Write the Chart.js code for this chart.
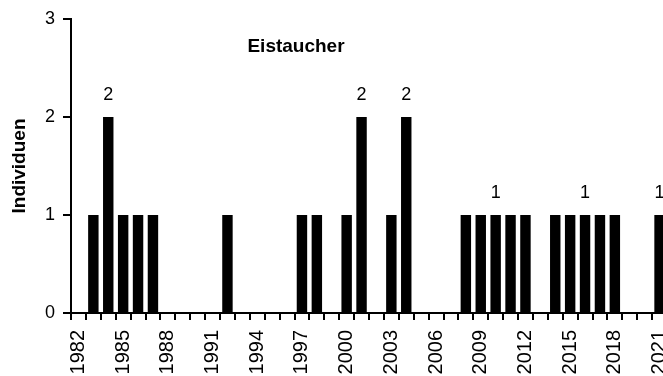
<!DOCTYPE html>
<html>
<head>
<meta charset="utf-8">
<script src="https://cdn.jsdelivr.net/npm/chart.js@4"></script>
<style>
  html, body { margin: 0; padding: 0; background: #fff; overflow: hidden; }
  #wrap { width: 663px; height: 376px; overflow: hidden; }
</style>
</head>
<body>
<div id="wrap"><canvas id="eistaucher" width="667" height="376"></canvas></div>
<script>
// Eistaucher - Individuen pro Jahr
const years = [1982, 1983, 1984, 1985, 1986, 1987, 1988, 1989, 1990, 1991,
               1992, 1993, 1994, 1995, 1996, 1997, 1998, 1999, 2000, 2001,
               2002, 2003, 2004, 2005, 2006, 2007, 2008, 2009, 2010, 2011,
               2012, 2013, 2014, 2015, 2016, 2017, 2018, 2019, 2020, 2021];
const individuen = [0, 1, 2, 1, 1, 1, 0, 0, 0, 0,
                    1, 0, 0, 0, 0, 1, 1, 0, 1, 2,
                    0, 1, 2, 0, 0, 0, 1, 1, 1, 1,
                    1, 0, 1, 1, 1, 1, 1, 0, 0, 1];
// numbers written above some bars
const barLabels = [null, null, 2, null, null, null, null, null, null, null,
                   null, null, null, null, null, null, null, null, null, 2,
                   null, null, 2, null, null, null, null, null, 1, null,
                   null, null, null, null, 1, null, null, null, null, 1];
const yTicks = [0, 1, 2, 3];
const chartTitle = "Eistaucher";
const yTitle = "Individuen";

const fontFam = "'Liberation Sans', Arial, sans-serif";

/*labels over the bars*/
const barLabelPlugin = {
    id: "barLabels",
    afterDatasetsDraw(chart) {
        const ctx = chart.ctx;
        const meta = chart.getDatasetMeta(0);
        ctx.save();
        ctx.fillStyle = "#000";
        ctx.font = "18px " + fontFam;
        ctx.textAlign = "center";
        ctx.textBaseline = "bottom";
        meta.data.forEach(function (bar, i) {
            if (barLabels[i] == null) return;
            ctx.fillText(String(barLabels[i]), bar.x, bar.y - 13);
        });
        ctx.restore();
    }
};

/*title sits inside the plot*/
const innerTitlePlugin = {
    id: "innerTitle",
    afterDraw(chart) {
        const ctx = chart.ctx;
        const area = chart.chartArea;
        ctx.save();
        ctx.fillStyle = "#000";
        ctx.font = "bold 19px " + fontFam;
        ctx.textAlign = "center";
        ctx.textBaseline = "middle";
        ctx.fillText(chartTitle, area.left + 225, area.top + 28);
        ctx.restore();
    }
};

let canvas = document.getElementById("eistaucher").getContext("2d");

let chart = new Chart(canvas, {
    type: "bar",
    data: {
        labels: years,
        datasets: [{
            label: yTitle,
            data: individuen,
            backgroundColor: "#000",
            borderWidth: 0,
            categoryPercentage: 1,
            barPercentage: 0.7
        }]
    },
    options: {
        responsive: false,
        animation: false,
        devicePixelRatio: 1,
        layout: { padding: { top: 19, left: 0, right: 0, bottom: 0 } },
        plugins: {
            legend: { display: false },
            title: { display: false },
            tooltip: { enabled: false }
        },
        scales: {
            x: {
                grid: {
                    offset: true,
                    drawOnChartArea: false,
                    drawTicks: true,
                    tickLength: 7,
                    color: "#000",
                    lineWidth: 2
                },
                border: { display: true, color: "#000", width: 2 },
                ticks: {
                    autoSkip: false,
                    maxRotation: 90,
                    minRotation: 90,
                    padding: 10,
                    color: "#000",
                    font: { family: fontFam, size: 20 },
                    callback: function (value, index) {
                        return (years[index] - years[0]) % 3 == 0 ? String(years[index]) : "";
                    }
                },
                afterFit: function (scale) {
                    scale.height = 63;
                    scale.paddingLeft = 0;
                    scale.paddingRight = 0;
                }
            },
            y: {
                min: 0,
                max: 3,
                grid: {
                    drawOnChartArea: false,
                    drawTicks: true,
                    tickLength: 8,
                    color: "#000",
                    lineWidth: 2
                },
                border: { display: true, color: "#000", width: 2 },
                afterBuildTicks: function (scale) {
                    scale.ticks = yTicks.map(v => ({ value: v }));
                },
                ticks: {
                    padding: 8,
                    color: "#000",
                    font: { family: fontFam, size: 18 }
                },
                title: {
                    display: true,
                    text: yTitle,
                    color: "#000",
                    font: { family: fontFam, size: 19, weight: "bold" },
                    padding: { top: 8, bottom: 0 }
                },
                afterFit: function (scale) {
                    scale.width = 71;
                }
            }
        }
    },
    plugins: [barLabelPlugin, innerTitlePlugin]
});
</script>
</body>
</html>
